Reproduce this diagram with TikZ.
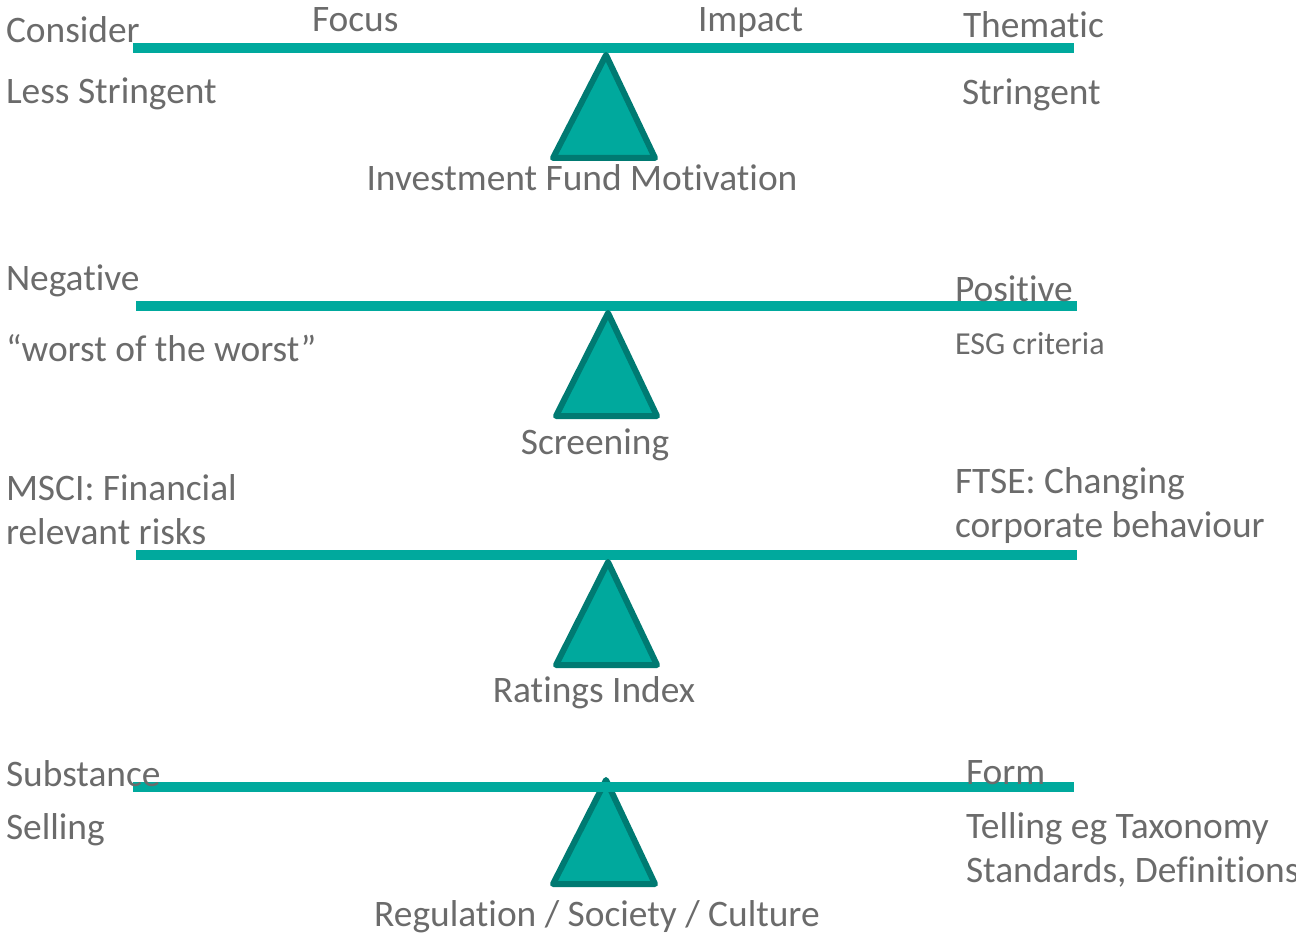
\documentclass[tikz,border=0pt]{standalone}
\usepackage{fontspec}
\setmainfont[Ligatures={NoCommon}]{Carlito}
\definecolor{txt}{HTML}{6B6B6B}
\definecolor{teal}{HTML}{00A99D}
\definecolor{tealdark}{HTML}{007A72}
\tikzset{
  lbl/.style={inner sep=0pt, outer sep=0pt, text=txt, font=\fontsize{37.4}{42}\selectfont},
  lblsmall/.style={lbl, font=\fontsize{32}{36}\selectfont},
  beam/.style={draw=teal, line width=9.5pt},
  fulcrum/.style={fill=teal, draw=tealdark, line width=6pt, line join=round}
}
\begin{document}
\begin{tikzpicture}[x=1pt,y=-1pt]
\useasboundingbox (0,0) rectangle (1296,933);
% ---------- Beam 1
\draw[beam] (133,48) -- (1074,48);
\draw[fulcrum] (606,55) -- (655,158) -- (553,158) -- cycle;
\node[lbl, anchor=base west] (consider) at (6,43) {Consider};
\node[lbl, anchor=base west] (focus) at (312,32) {Focus};
\node[lbl, anchor=base west] (impact) at (698,32) {Impact};
\node[lbl, anchor=base west] (thematic) at (963,38) {Thematic};
\node[lbl, anchor=base west] (less) at (6,104) {Less Stringent};
\node[lbl, anchor=base west] (stringent) at (962,105) {Stringent};
\node[lbl, anchor=base] (motivation) at (582,191) {Investment Fund Motivation};
% ---------- Beam 2
\draw[beam] (136,306) -- (1077,306);
\draw[fulcrum] (608,313) -- (657,416) -- (556,416) -- cycle;
\node[lbl, anchor=base west] (negative) at (6,291) {Negative};
\node[lbl, anchor=base west] (worst) at (6,361) {“worst of the worst”};
\node[lbl, anchor=base west] (positive) at (955,302) {Positive};
\node[lblsmall, anchor=base west] (esg) at (955,355) {ESG criteria};
\node[lbl, anchor=base] (screening) at (595,454) {Screening};
% ---------- Beam 3
\draw[beam] (136,555) -- (1077,555);
\draw[fulcrum] (608,562) -- (657,665) -- (556,665) -- cycle;
\node[lbl, anchor=base west] (msci1) at (6,500) {MSCI: Financial};
\node[lbl, anchor=base west] (msci2) at (6,544) {relevant risks};
\node[lbl, anchor=base west] (ftse1) at (955,493) {FTSE: Changing};
\node[lbl, anchor=base west] (ftse2) at (955,537) {corporate behaviour};
\node[lbl, anchor=base] (ratings) at (594,702) {Ratings Index};
% ---------- Beam 4
\draw[fulcrum] (606,780) -- (655,884) -- (553,884) -- cycle;
\draw[beam] (133,787) -- (1074,787);
\node[lbl, anchor=base west] (substance) at (6,786) {Substance};
\node[lbl, anchor=base west] (selling) at (6,839) {Selling};
\node[lbl, anchor=base west] (form) at (966,784) {Form};
\node[lbl, anchor=base west] (telling) at (966,838) {Telling eg Taxonomy};
\node[lbl, anchor=base west] (standards) at (966,882) {Standards, Definitions};
\node[lbl, anchor=base] (regulation) at (597,926) {Regulation / Society / Culture};
\end{tikzpicture}
\end{document}
